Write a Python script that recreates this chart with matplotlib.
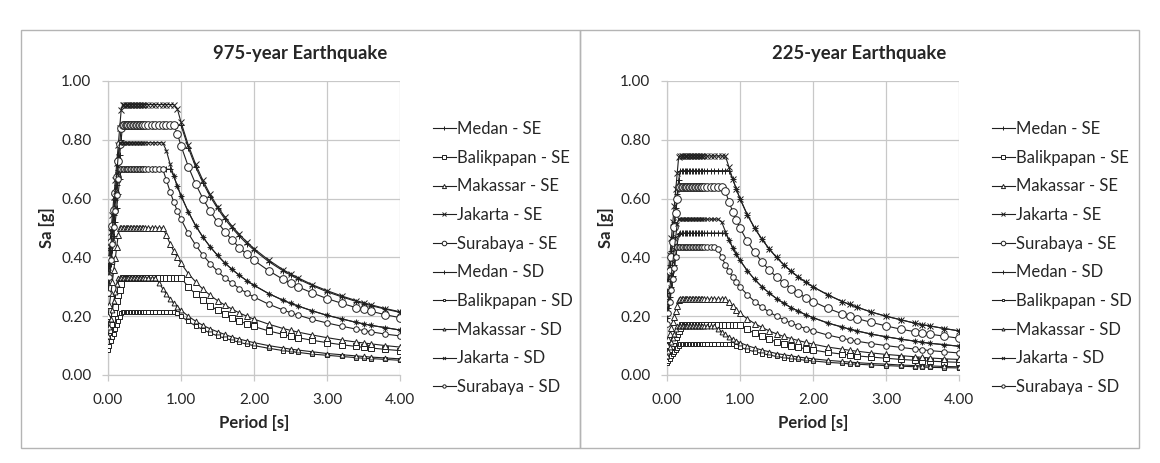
import matplotlib
matplotlib.use("Agg")
import matplotlib.pyplot as plt
from matplotlib.patches import Rectangle

plt.rcParams['font.family'] = ['Lato', 'DejaVu Sans']

# periods [s], shared by every series
period = [0.00, 0.02, 0.04, 0.06, 0.08, 0.10, 0.12, 0.14, 0.16, 0.18,
          0.20, 0.22, 0.24, 0.26, 0.28, 0.30, 0.32, 0.34, 0.36, 0.38,
          0.40, 0.42, 0.44, 0.46, 0.48, 0.50,
          0.55, 0.60, 0.65, 0.70, 0.75, 0.80, 0.85, 0.90, 0.95, 1.00,
          1.10, 1.20, 1.30, 1.40, 1.50, 1.60, 1.70, 1.80, 1.90, 2.00,
          2.20, 2.40, 2.50, 2.60, 2.80, 3.00, 3.20, 3.40, 3.50, 3.60, 3.80, 4.00]

labels = ['Medan - SE', 'Balikpapan - SE', 'Makassar - SE', 'Jakarta - SE', 'Surabaya - SE',
          'Medan - SD', 'Balikpapan - SD', 'Makassar - SD', 'Jakarta - SD', 'Surabaya - SD']

# ---- 975-year earthquake, Sa [g] ----
medan_se_975 = [0.340, 0.391, 0.442, 0.493, 0.544, 0.595, 0.646, 0.697, 0.748, 0.799,
                0.85, 0.85, 0.85, 0.85, 0.85, 0.85, 0.85, 0.85, 0.85, 0.85,
                0.85, 0.85, 0.85, 0.85, 0.85, 0.85,
                0.85, 0.85, 0.85, 0.85, 0.85, 0.85, 0.85, 0.85, 0.85, 0.85,
                0.773, 0.708, 0.654, 0.607, 0.567, 0.531, 0.500, 0.472, 0.447, 0.425,
                0.386, 0.354, 0.340, 0.327, 0.304, 0.283, 0.266, 0.250, 0.243, 0.236, 0.224, 0.213]
balik_se_975 = [0.132, 0.152, 0.172, 0.191, 0.211, 0.231, 0.251, 0.271, 0.290, 0.310,
                0.33, 0.33, 0.33, 0.33, 0.33, 0.33, 0.33, 0.33, 0.33, 0.33,
                0.33, 0.33, 0.33, 0.33, 0.33, 0.33,
                0.33, 0.33, 0.33, 0.33, 0.33, 0.33, 0.33, 0.33, 0.33, 0.33,
                0.300, 0.275, 0.254, 0.236, 0.220, 0.206, 0.194, 0.183, 0.174, 0.165,
                0.150, 0.138, 0.132, 0.127, 0.118, 0.110, 0.103, 0.097, 0.094, 0.092, 0.087, 0.083]
makas_se_975 = [0.200, 0.239, 0.279, 0.318, 0.358, 0.397, 0.437, 0.476, 0.50, 0.50,
                0.50, 0.50, 0.50, 0.50, 0.50, 0.50, 0.50, 0.50, 0.50, 0.50,
                0.50, 0.50, 0.50, 0.50, 0.50, 0.50,
                0.50, 0.50, 0.50, 0.50, 0.50, 0.475, 0.447, 0.422, 0.400, 0.380,
                0.345, 0.317, 0.292, 0.271, 0.253, 0.238, 0.224, 0.211, 0.200, 0.190,
                0.173, 0.158, 0.152, 0.146, 0.136, 0.127, 0.119, 0.112, 0.109, 0.106, 0.100, 0.095]
jakar_se_975 = [0.368, 0.427, 0.486, 0.545, 0.604, 0.663, 0.722, 0.781, 0.840, 0.900,
                0.92, 0.92, 0.92, 0.92, 0.92, 0.92, 0.92, 0.92, 0.92, 0.92,
                0.92, 0.92, 0.92, 0.92, 0.92, 0.92,
                0.92, 0.92, 0.92, 0.92, 0.92, 0.92, 0.92, 0.92, 0.905, 0.860,
                0.782, 0.717, 0.662, 0.614, 0.573, 0.538, 0.506, 0.478, 0.453, 0.430,
                0.391, 0.358, 0.344, 0.331, 0.307, 0.287, 0.269, 0.253, 0.246, 0.239, 0.226, 0.215]
surab_se_975 = [0.340, 0.396, 0.451, 0.507, 0.562, 0.618, 0.673, 0.729, 0.785, 0.840,
                0.85, 0.85, 0.85, 0.85, 0.85, 0.85, 0.85, 0.85, 0.85, 0.85,
                0.85, 0.85, 0.85, 0.85, 0.85, 0.85,
                0.85, 0.85, 0.85, 0.85, 0.85, 0.85, 0.85, 0.85, 0.821, 0.780,
                0.709, 0.650, 0.600, 0.557, 0.520, 0.488, 0.459, 0.433, 0.411, 0.390,
                0.355, 0.325, 0.312, 0.300, 0.279, 0.260, 0.244, 0.229, 0.223, 0.217, 0.205, 0.195]
medan_sd_975 = [0.280, 0.328, 0.376, 0.425, 0.473, 0.521, 0.569, 0.617, 0.666, 0.70,
                0.70, 0.70, 0.70, 0.70, 0.70, 0.70, 0.70, 0.70, 0.70, 0.70,
                0.70, 0.70, 0.70, 0.70, 0.70, 0.70,
                0.70, 0.70, 0.70, 0.70, 0.70, 0.70, 0.70, 0.678, 0.642, 0.610,
                0.555, 0.508, 0.469, 0.436, 0.407, 0.381, 0.359, 0.339, 0.321, 0.305,
                0.277, 0.254, 0.244, 0.235, 0.218, 0.203, 0.191, 0.179, 0.174, 0.169, 0.161, 0.153]
balik_sd_975 = [0.086, 0.100, 0.114, 0.128, 0.141, 0.155, 0.169, 0.183, 0.197, 0.211,
                0.215, 0.215, 0.215, 0.215, 0.215, 0.215, 0.215, 0.215, 0.215, 0.215,
                0.215, 0.215, 0.215, 0.215, 0.215, 0.215,
                0.215, 0.215, 0.215, 0.215, 0.215, 0.215, 0.215, 0.215, 0.211, 0.200,
                0.182, 0.167, 0.154, 0.143, 0.133, 0.125, 0.118, 0.111, 0.105, 0.100,
                0.091, 0.083, 0.080, 0.077, 0.071, 0.067, 0.063, 0.059, 0.057, 0.056, 0.053, 0.050]
makas_sd_975 = [0.132, 0.162, 0.191, 0.221, 0.251, 0.281, 0.310, 0.33, 0.33, 0.33,
                0.33, 0.33, 0.33, 0.33, 0.33, 0.33, 0.33, 0.33, 0.33, 0.33,
                0.33, 0.33, 0.33, 0.33, 0.33, 0.33,
                0.33, 0.33, 0.33, 0.314, 0.293, 0.275, 0.259, 0.244, 0.232, 0.220,
                0.200, 0.183, 0.169, 0.157, 0.147, 0.138, 0.129, 0.122, 0.116, 0.110,
                0.100, 0.092, 0.088, 0.085, 0.079, 0.073, 0.069, 0.065, 0.063, 0.061, 0.058, 0.055]
jakar_sd_975 = [0.316, 0.377, 0.439, 0.500, 0.562, 0.623, 0.684, 0.746, 0.79, 0.79,
                0.79, 0.79, 0.79, 0.79, 0.79, 0.79, 0.79, 0.79, 0.79, 0.79,
                0.79, 0.79, 0.79, 0.79, 0.79, 0.79,
                0.79, 0.79, 0.79, 0.79, 0.79, 0.763, 0.718, 0.678, 0.642, 0.610,
                0.555, 0.508, 0.469, 0.436, 0.407, 0.381, 0.359, 0.339, 0.321, 0.305,
                0.277, 0.254, 0.244, 0.235, 0.218, 0.203, 0.191, 0.179, 0.174, 0.169, 0.161, 0.153]
surab_sd_975 = [0.280, 0.335, 0.391, 0.446, 0.502, 0.557, 0.613, 0.668, 0.70, 0.70,
                0.70, 0.70, 0.70, 0.70, 0.70, 0.70, 0.70, 0.70, 0.70, 0.70,
                0.70, 0.70, 0.70, 0.70, 0.70, 0.70,
                0.70, 0.70, 0.70, 0.70, 0.70, 0.663, 0.624, 0.589, 0.558, 0.530,
                0.482, 0.442, 0.408, 0.379, 0.353, 0.331, 0.312, 0.294, 0.279, 0.265,
                0.241, 0.221, 0.212, 0.204, 0.189, 0.177, 0.166, 0.156, 0.151, 0.147, 0.139, 0.133]

# ---- 225-year earthquake, Sa [g] ----
medan_se_225 = [0.278, 0.326, 0.375, 0.423, 0.471, 0.520, 0.568, 0.616, 0.664, 0.695,
                0.695, 0.695, 0.695, 0.695, 0.695, 0.695, 0.695, 0.695, 0.695, 0.695,
                0.695, 0.695, 0.695, 0.695, 0.695, 0.695,
                0.695, 0.695, 0.695, 0.695, 0.695, 0.695, 0.695, 0.667, 0.632, 0.600,
                0.545, 0.500, 0.462, 0.429, 0.400, 0.375, 0.353, 0.333, 0.316, 0.300,
                0.273, 0.250, 0.240, 0.231, 0.214, 0.200, 0.188, 0.176, 0.171, 0.167, 0.158, 0.150]
balik_se_225 = [0.068, 0.078, 0.088, 0.099, 0.109, 0.119, 0.129, 0.139, 0.150, 0.160,
                0.17, 0.17, 0.17, 0.17, 0.17, 0.17, 0.17, 0.17, 0.17, 0.17,
                0.17, 0.17, 0.17, 0.17, 0.17, 0.17,
                0.17, 0.17, 0.17, 0.17, 0.17, 0.17, 0.17, 0.17, 0.17, 0.17,
                0.155, 0.142, 0.131, 0.121, 0.113, 0.106, 0.100, 0.094, 0.089, 0.085,
                0.077, 0.071, 0.068, 0.065, 0.061, 0.057, 0.053, 0.050, 0.049, 0.047, 0.045, 0.043]
makas_se_225 = [0.103, 0.122, 0.141, 0.160, 0.179, 0.198, 0.217, 0.236, 0.255, 0.258,
                0.258, 0.258, 0.258, 0.258, 0.258, 0.258, 0.258, 0.258, 0.258, 0.258,
                0.258, 0.258, 0.258, 0.258, 0.258, 0.258,
                0.258, 0.258, 0.258, 0.258, 0.258, 0.258, 0.247, 0.233, 0.221, 0.210,
                0.191, 0.175, 0.162, 0.150, 0.140, 0.131, 0.124, 0.117, 0.111, 0.105,
                0.095, 0.088, 0.084, 0.081, 0.075, 0.070, 0.066, 0.062, 0.060, 0.058, 0.055, 0.053]
jakar_se_225 = [0.298, 0.354, 0.409, 0.465, 0.520, 0.576, 0.631, 0.687, 0.742, 0.745,
                0.745, 0.745, 0.745, 0.745, 0.745, 0.745, 0.745, 0.745, 0.745, 0.745,
                0.745, 0.745, 0.745, 0.745, 0.745, 0.745,
                0.745, 0.745, 0.745, 0.745, 0.745, 0.745, 0.706, 0.667, 0.632, 0.600,
                0.545, 0.500, 0.462, 0.429, 0.400, 0.375, 0.353, 0.333, 0.316, 0.300,
                0.273, 0.250, 0.240, 0.231, 0.214, 0.200, 0.188, 0.176, 0.171, 0.167, 0.158, 0.150]
surab_se_225 = [0.256, 0.305, 0.354, 0.403, 0.453, 0.502, 0.551, 0.600, 0.64, 0.64,
                0.64, 0.64, 0.64, 0.64, 0.64, 0.64, 0.64, 0.64, 0.64, 0.64,
                0.64, 0.64, 0.64, 0.64, 0.64, 0.64,
                0.64, 0.64, 0.64, 0.64, 0.64, 0.625, 0.588, 0.556, 0.526, 0.500,
                0.455, 0.417, 0.385, 0.357, 0.333, 0.313, 0.294, 0.278, 0.263, 0.250,
                0.227, 0.208, 0.200, 0.192, 0.179, 0.167, 0.156, 0.147, 0.143, 0.139, 0.132, 0.125]
medan_sd_225 = [0.193, 0.229, 0.265, 0.301, 0.337, 0.373, 0.409, 0.444, 0.480, 0.483,
                0.483, 0.483, 0.483, 0.483, 0.483, 0.483, 0.483, 0.483, 0.483, 0.483,
                0.483, 0.483, 0.483, 0.483, 0.483, 0.483,
                0.483, 0.483, 0.483, 0.483, 0.483, 0.483, 0.459, 0.433, 0.411, 0.390,
                0.355, 0.325, 0.300, 0.279, 0.260, 0.244, 0.229, 0.217, 0.205, 0.195,
                0.177, 0.163, 0.156, 0.150, 0.139, 0.130, 0.122, 0.115, 0.111, 0.108, 0.103, 0.098]
balik_sd_225 = [0.042, 0.049, 0.056, 0.063, 0.070, 0.077, 0.084, 0.091, 0.098, 0.105,
                0.105, 0.105, 0.105, 0.105, 0.105, 0.105, 0.105, 0.105, 0.105, 0.105,
                0.105, 0.105, 0.105, 0.105, 0.105, 0.105,
                0.105, 0.105, 0.105, 0.105, 0.105, 0.105, 0.105, 0.105, 0.100, 0.095,
                0.086, 0.079, 0.073, 0.068, 0.063, 0.059, 0.056, 0.053, 0.050, 0.048,
                0.043, 0.040, 0.038, 0.037, 0.034, 0.032, 0.030, 0.028, 0.027, 0.026, 0.025, 0.024]
makas_sd_225 = [0.066, 0.081, 0.096, 0.111, 0.125, 0.140, 0.155, 0.165, 0.165, 0.165,
                0.165, 0.165, 0.165, 0.165, 0.165, 0.165, 0.165, 0.165, 0.165, 0.165,
                0.165, 0.165, 0.165, 0.165, 0.165, 0.165,
                0.165, 0.165, 0.165, 0.157, 0.147, 0.138, 0.129, 0.122, 0.116, 0.110,
                0.100, 0.092, 0.085, 0.079, 0.073, 0.069, 0.065, 0.061, 0.058, 0.055,
                0.050, 0.046, 0.044, 0.042, 0.039, 0.037, 0.034, 0.032, 0.031, 0.031, 0.029, 0.028]
jakar_sd_225 = [0.212, 0.255, 0.298, 0.342, 0.385, 0.428, 0.471, 0.515, 0.53, 0.53,
                0.53, 0.53, 0.53, 0.53, 0.53, 0.53, 0.53, 0.53, 0.53, 0.53,
                0.53, 0.53, 0.53, 0.53, 0.53, 0.53,
                0.53, 0.53, 0.53, 0.53, 0.520, 0.488, 0.459, 0.433, 0.411, 0.390,
                0.355, 0.325, 0.300, 0.279, 0.260, 0.244, 0.229, 0.217, 0.205, 0.195,
                0.177, 0.163, 0.156, 0.150, 0.139, 0.130, 0.122, 0.115, 0.111, 0.108, 0.103, 0.098]
surab_sd_225 = [0.174, 0.212, 0.250, 0.288, 0.326, 0.364, 0.402, 0.436, 0.436, 0.436,
                0.436, 0.436, 0.436, 0.436, 0.436, 0.436, 0.436, 0.436, 0.436, 0.436,
                0.436, 0.436, 0.436, 0.436, 0.436, 0.436,
                0.436, 0.436, 0.436, 0.429, 0.400, 0.375, 0.353, 0.333, 0.316, 0.300,
                0.273, 0.250, 0.231, 0.214, 0.200, 0.188, 0.176, 0.167, 0.158, 0.150,
                0.136, 0.125, 0.120, 0.115, 0.107, 0.100, 0.094, 0.088, 0.086, 0.083, 0.079, 0.075]

sa_975 = [medan_se_975, balik_se_975, makas_se_975, jakar_se_975, surab_se_975,
          medan_sd_975, balik_sd_975, makas_sd_975, jakar_sd_975, surab_sd_975]
sa_225 = [medan_se_225, balik_se_225, makas_se_225, jakar_se_225, surab_se_225,
          medan_sd_225, balik_sd_225, makas_sd_225, jakar_sd_225, surab_sd_225]

# marker, size (SE markers bigger than SD)
styles = [('+', 4.5), ('s', 5.0), ('^', 5.0), ('x', 4.0), ('o', 5.5),
          ('+', 4.0), ('s', 3.5), ('^', 3.5), ('x', 3.5), ('o', 4.0)]

W, H = 1160, 463
fig = plt.figure(figsize=(W / 100, H / 100), dpi=100)

grid_col = '#c8c8c8'
text_col = '#262626'


def panel(px0, sa_list, title, frame):
    # frame of the chart area
    fx0, fx1, fy0, fy1 = frame
    fig.add_artist(Rectangle((fx0 / W, 1 - fy1 / H), (fx1 - fx0) / W, (fy1 - fy0) / H,
                             transform=fig.transFigure, fill=False, ec='#b4b4b4', lw=1.0))
    ax = fig.add_axes([px0 / W, 1 - 375 / H, 292 / W, 294 / H])
    handles = []
    for s, (m, ms) in zip(sa_list, styles):
        assert len(s) == len(period)
        ln, = ax.plot(period, s, color='#202020', lw=0.8, marker=m, ms=ms,
                      mfc='white', mec='#202020', mew=0.7, zorder=3)
        handles.append(ln)
    ax.set_xlim(0, 4)
    ax.set_ylim(0, 1)
    ax.set_xticks([0, 1, 2, 3, 4])
    ax.set_yticks([0, 0.2, 0.4, 0.6, 0.8, 1.0])
    ax.set_xticklabels(['%.2f' % v for v in [0, 1, 2, 3, 4]])
    ax.set_yticklabels(['%.2f' % v for v in [0, 0.2, 0.4, 0.6, 0.8, 1.0]])
    ax.grid(True, color=grid_col, lw=0.9, zorder=0)
    ax.set_axisbelow(True)
    for sp in ['top', 'right']:
        ax.spines[sp].set_visible(False)
    for sp in ['left', 'bottom']:
        ax.spines[sp].set_color(grid_col)
        ax.spines[sp].set_linewidth(0.9)
    ax.tick_params(direction='out', length=4, width=0.9, color=grid_col,
                   labelsize=11, labelcolor=text_col)
    ax.tick_params(axis='y', pad=8)
    ax.tick_params(axis='x', pad=9)

    cx = (fx0 + fx1) / 2
    fig.text(cx / W, 1 - 53 / H, title, ha='center', va='center',
             fontsize=13.3, fontweight='bold', color=text_col)
    fig.text((px0 - 61) / W, 1 - 228 / H, 'Sa [g]', rotation=90, ha='center', va='center',
             fontsize=12, fontweight='bold', color=text_col)
    fig.text((px0 + 146) / W, 1 - 423 / H, 'Period [s]', ha='center', va='center',
             fontsize=12, fontweight='bold', color=text_col)

    leg = ax.legend(handles, labels, loc='upper left',
                    bbox_to_anchor=((px0 + 325) / W, 1 - 121 / H),
                    bbox_transform=fig.transFigure, frameon=False,
                    fontsize=12, markerscale=0.6, handlelength=1.35,
                    handletextpad=0.1, labelspacing=0.76, borderpad=0, borderaxespad=0)
    for t in leg.get_texts():
        t.set_color(text_col)
    return ax


panel(108, sa_975, '975-year Earthquake', (21, 580, 30, 448))
panel(667, sa_225, '225-year Earthquake', (580, 1139, 30, 448))

fig.savefig('out.png', dpi=100)
